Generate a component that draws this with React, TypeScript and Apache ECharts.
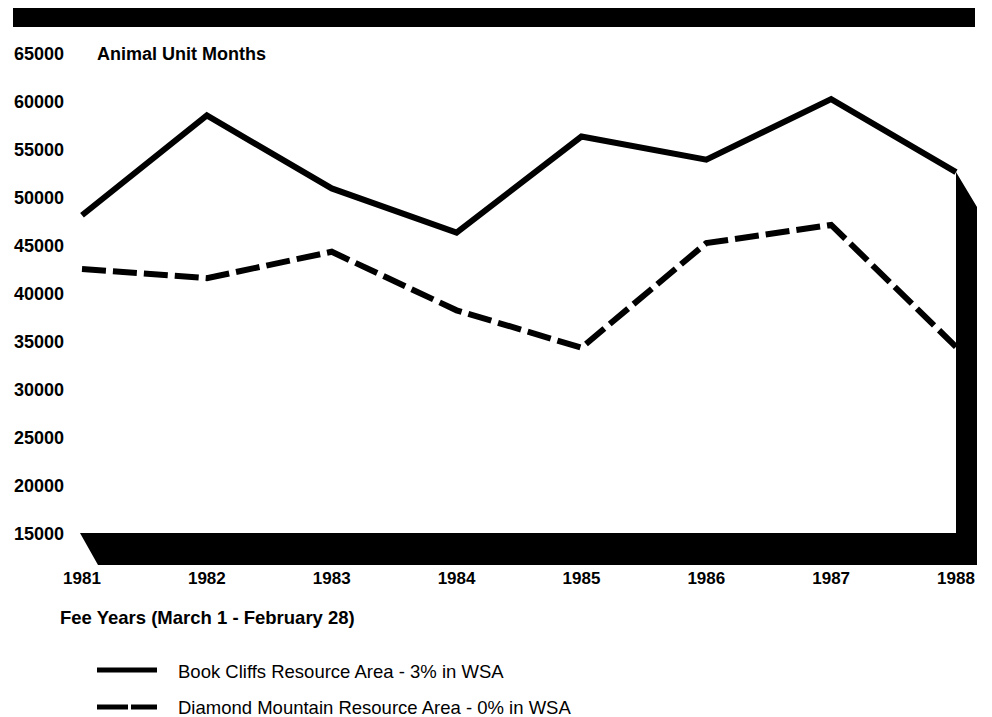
import React, { useEffect, useRef } from "react";
import * as echarts from "echarts";

const years = ["1981", "1982", "1983", "1984", "1985", "1986", "1987", "1988"];
const bookCliffs = [48200, 58600, 51000, 46400, 56400, 54000, 60300, 52700];
const diamondMountain = [42600, 41650, 44400, 38300, 34400, 45300, 47200, 34500];
const yMin = 15000;
const yMax = 65000;
const yStep = 5000;
const seriesNames = [
  "Book Cliffs Resource Area - 3% in WSA",
  "Diamond Mountain Resource Area - 0% in WSA",
];
const yTitle = "Animal Unit Months";
const xTitle = "Fee Years (March 1 - February 28)";

const FONT = "'Liberation Sans', Arial, Helvetica, sans-serif";

export default function App() {
  const ref = useRef<HTMLDivElement>(null);
  useEffect(() => {
    if (!ref.current) return;
    const chart = echarts.init(ref.current, null, { renderer: "svg", width: 992, height: 717 });
    const legendGraphic: any[] = [
      { type: "line", shape: { x1: 97, y1: 670, x2: 157, y2: 670 }, style: { stroke: "#000", lineWidth: 5 } },
      { type: "line", shape: { x1: 97, y1: 707, x2: 128, y2: 707 }, style: { stroke: "#000", lineWidth: 5 } },
      { type: "line", shape: { x1: 131, y1: 707, x2: 157, y2: 707 }, style: { stroke: "#000", lineWidth: 5 } },
      {
        type: "text",
        x: 178,
        y: 671,
        style: { text: seriesNames[0], fill: "#000", font: `18.5px ${FONT}`, verticalAlign: "middle", align: "left" },
      },
      {
        type: "text",
        x: 178,
        y: 707,
        style: { text: seriesNames[1], fill: "#000", font: `18.5px ${FONT}`, verticalAlign: "middle", align: "left" },
      },
    ];
    const baseGraphic: any[] = [
      { type: "rect", shape: { x: 13, y: 8, width: 962, height: 19 }, style: { fill: "#000" } },
      {
        type: "text",
        x: 97,
        y: 54,
        style: { text: yTitle, fill: "#000", font: `bold 18px ${FONT}`, verticalAlign: "middle", align: "left" },
      },
      {
        type: "text",
        x: 60,
        y: 617,
        style: { text: xTitle, fill: "#000", font: `bold 18.5px ${FONT}`, verticalAlign: "middle", align: "left" },
      },
      ...legendGraphic,
    ];
    const option: any = {
      animation: false,
      backgroundColor: "#fff",
      grid: { left: 82, right: 36, top: 54, bottom: 183, containLabel: false },
      xAxis: {
        type: "category",
        data: years,
        boundaryGap: false,
        axisLine: { show: false },
        axisTick: { show: false },
        splitLine: { show: false },
        axisLabel: { fontFamily: FONT, fontWeight: "bold", fontSize: 17, color: "#000", margin: 36 },
      },
      yAxis: {
        type: "value",
        min: yMin,
        max: yMax,
        interval: yStep,
        axisLine: { show: false },
        axisTick: { show: false },
        splitLine: { show: false },
        axisLabel: {
          fontFamily: FONT,
          fontWeight: "bold",
          fontSize: 18,
          color: "#000",
          align: "left",
          margin: 68,
          formatter: (v: number) => String(v),
        },
      },
      series: [
        {
          name: seriesNames[0],
          type: "line",
          data: bookCliffs,
          symbol: "none",
          z: 3,
          lineStyle: { color: "#000", width: 6, type: "solid", join: "miter" },
          itemStyle: { color: "#000" },
        },
        {
          name: seriesNames[1],
          type: "line",
          data: diamondMountain,
          symbol: "none",
          z: 3,
          lineStyle: { color: "#000", width: 6, type: [24, 7], join: "miter" },
          itemStyle: { color: "#000" },
        },
      ],
      graphic: baseGraphic,
    };
    chart.setOption(option);

    const last = years.length - 1;
    const p0 = chart.convertToPixel({ gridIndex: 0 }, [0, yMin]) as number[];
    const p1 = chart.convertToPixel({ gridIndex: 0 }, [last, yMin]) as number[];
    const pTop = chart.convertToPixel({ gridIndex: 0 }, [last, bookCliffs[last]]) as number[];
    const dx = 21;
    const dy = 31;
    const shadow = {
      type: "polygon",
      z: 1,
      shape: {
        points: [
          [p0[0] - 2, p0[1] - 1],
          [p1[0], p1[1] - 1],
          [pTop[0], pTop[1]],
          [pTop[0] + dx, pTop[1] + dy + 4],
          [p1[0] + dx, p1[1] + dy],
          [p0[0] + dx - 5, p0[1] + dy],
        ],
      },
      style: { fill: "#000" },
    };
    chart.setOption({ graphic: [...baseGraphic, shadow] }, { replaceMerge: ["graphic"] });

    return () => chart.dispose();
  }, []);
  return <div ref={ref} style={{ width: 992, height: 717, position: "absolute", left: 0, top: 0 }} />;
}
